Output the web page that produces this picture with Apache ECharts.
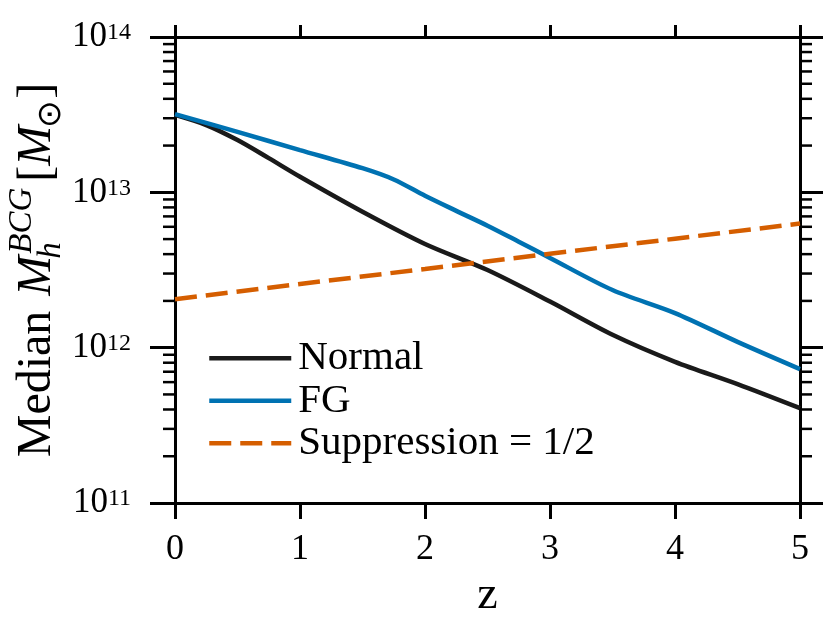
<!DOCTYPE html>
<html>
<head>
<meta charset="utf-8">
<script src="https://cdn.jsdelivr.net/npm/echarts@6/dist/echarts.min.js"></script>
<style>html,body{margin:0;padding:0;background:#fff}#c{width:830px;height:628px}</style>
</head>
<body>
<div id="c"></div>
<script>
// ---- data ----
const zNormal   = [0, 0.25, 0.5, 0.75, 1, 1.5, 2, 2.5, 3, 3.5, 4, 4.5, 5];
const mNormal   = [3.15e13, 2.71e13, 2.17e13, 1.66e13, 1.26e13, 7.50e12, 4.65e12, 3.16e12, 1.98e12, 1.21e12, 8.11e11, 5.83e11, 4.08e11];
const zFG       = [0, 0.5, 1, 1.5, 1.75, 2, 2.25, 2.5, 2.75, 3, 3.5, 4, 4.5, 5];
const mFG       = [3.19e13, 2.45e13, 1.87e13, 1.43e13, 1.21e13, 9.50e12, 7.60e12, 6.10e12, 4.81e12, 3.78e12, 2.35e12, 1.67e12, 1.09e12, 7.28e11];
const zSupp     = [0, 1, 2, 3, 4, 5];
const mSupp     = [2.05e12, 2.57e12, 3.21e12, 4.02e12, 5.03e12, 6.30e12];
const seriesNames = ['Normal', 'FG', 'Suppression = 1/2'];
const xTicks    = [0, 1, 2, 3, 4, 5];
const yMajor    = [1e11, 1e12, 1e13, 1e14];
const yMinor    = [2e11,3e11,4e11,5e11,6e11,7e11,8e11,9e11,
                   2e12,3e12,4e12,5e12,6e12,7e12,8e12,9e12,
                   2e13,3e13,4e13,5e13,6e13,7e13,8e13,9e13];

const FONT = 'Liberation Serif';
const X_MIN = xTicks[0], X_MAX = xTicks[xTicks.length - 1];
const Y_MIN = yMajor[0], Y_MAX = yMajor[yMajor.length - 1];
const GRID = {left: 175, right: 30, top: 37, bottom: 125};

const pairs = (xs, ys) => xs.map((x, i) => [x, ys[i]]);

// ---- y-axis title built from pieces ----
const mctx = document.createElement('canvas').getContext('2d');
function tw(t, size, italic) {
  mctx.font = (italic ? 'italic ' : '') + size + 'px "' + FONT + '"';
  return mctx.measureText(t).width;
}
const TS = 48, SS = 33;
const SUB_Y = 14.5, SUP_Y = -15;
function piece(text, x, y, size, italic) {
  return {type: 'text', x: x, y: y, style: {
    text: text, fontFamily: FONT, fontSize: size, fontStyle: italic ? 'italic' : 'normal',
    fill: '#000', align: 'left', verticalAlign: 'middle', textAlign: 'left', textVerticalAlign: 'middle'}};
}
const kids = [];
let px = 0;
kids.push(piece('Median', px, 0, TS, false)); px += tw('Median', TS, false) + 15;
kids.push(piece('M', px, 0, TS, true));
let wM = tw('M', TS, true);
kids.push(piece('h', px + wM - 3, SUB_Y, SS, true));
kids.push(piece('BCG', px + wM + 2, SUP_Y, SS, true));
px += wM + Math.max(tw('h', SS, true) - 3, tw('BCG', SS, true) + 2) + 6;
kids.push(piece('[', px, 0, TS, false)); px += tw('[', TS, false);
kids.push(piece('M', px, 0, TS, true)); px += wM - 2;
kids.push(piece('\u2299', px, SUB_Y, SS, false)); px += tw('\u2299', SS, false) + 1;
kids.push(piece(']', px, 0, TS, false)); px += tw(']', TS, false);
const titleLen = px;
const plotMid = GRID.top + (628 - GRID.top - GRID.bottom) / 2;

const axisLineStyle = {color: '#000', width: 3};

const chart = echarts.init(document.getElementById('c'), null, {renderer: 'canvas'});
chart.setOption({
  animation: false,
  backgroundColor: '#fff',
  grid: {left: GRID.left, right: GRID.right, top: GRID.top, bottom: GRID.bottom, containLabel: false},
  xAxis: [{
    type: 'value', min: X_MIN, max: X_MAX, interval: 1, position: 'bottom',
    axisLine: {show: true, onZero: false, lineStyle: axisLineStyle},
    axisTick: {show: true, inside: false, length: 16, lineStyle: {color: '#000', width: 3}},
    axisLabel: {show: true, margin: 29, fontFamily: FONT, fontSize: 36, color: '#000'},
    splitLine: {show: false},
    name: 'z', nameLocation: 'middle', nameGap: 67,
    nameTextStyle: {fontFamily: FONT, fontSize: 46, color: '#000'}
  }, {
    type: 'value', min: X_MIN, max: X_MAX, interval: 1, position: 'top',
    axisLine: {show: true, onZero: false, lineStyle: axisLineStyle},
    axisTick: {show: true, inside: false, length: 12, lineStyle: {color: '#000', width: 3}},
    axisLabel: {show: false}, splitLine: {show: false}
  }],
  yAxis: [{
    type: 'log', logBase: 10, min: Y_MIN, max: Y_MAX, interval: 1, position: 'left',
    axisLine: {show: true, onZero: false, lineStyle: axisLineStyle},
    axisTick: {show: true, inside: false, length: 25, lineStyle: {color: '#000', width: 3}},
    axisLabel: {
      show: true, margin: 44,
      formatter: v => '{b|10}{s|' + Math.round(Math.log10(v)) + '}',
      rich: {
        b: {fontFamily: FONT, fontSize: 35, color: '#000', lineHeight: 38},
        s: {fontFamily: FONT, fontSize: 24, color: '#000', padding: [0, 0, 8, 0]}
      }
    },
    splitLine: {show: false}, minorTick: {show: false}
  }, {
    type: 'log', logBase: 10, min: Y_MIN, max: Y_MAX, interval: 1, position: 'right',
    axisLine: {show: true, onZero: false, lineStyle: axisLineStyle},
    axisTick: {show: true, inside: false, length: 23, lineStyle: {color: '#000', width: 3}},
    axisLabel: {show: false}, splitLine: {show: false}
  }],
  legend: {
    data: seriesNames, orient: 'vertical', left: 207, top: 337, padding: 0,
    itemWidth: 82, itemHeight: 14, itemGap: 0,
    itemStyle: {opacity: 0},
    lineStyle: {width: 4.5},
    textStyle: {fontFamily: FONT, fontSize: 41, color: '#000', lineHeight: 42.5, padding: [0, 0, 0, 2]},
    selectedMode: false
  },
  graphic: [{
    type: 'group', x: 37, y: plotMid + titleLen / 2, rotation: Math.PI / 2,
    children: kids
  }],
  series: [{
    name: seriesNames[0], type: 'line', data: pairs(zNormal, mNormal), symbol: 'none', smooth: 0.3,
    lineStyle: {color: '#1a1a1a', width: 4.5}, itemStyle: {color: '#1a1a1a'}, z: 3
  }, {
    name: seriesNames[1], type: 'line', data: pairs(zFG, mFG), symbol: 'none', smooth: 0.3,
    lineStyle: {color: '#0072b2', width: 4.5}, itemStyle: {color: '#0072b2'}, z: 3
  }, {
    name: seriesNames[2], type: 'line', data: pairs(zSupp, mSupp), symbol: 'none',
    lineStyle: {color: '#d55e00', width: 4.5, type: [22, 9]}, itemStyle: {color: '#d55e00'}, z: 4
  }, {
    name: 'minorTicks', type: 'custom', xAxisIndex: 0, yAxisIndex: 0, clip: false, silent: true, z: 5,
    data: yMinor.map(v => [X_MIN, v]),
    renderItem: (params, api) => {
      const v = api.value(1);
      const a = api.coord([X_MIN, v]);
      const b = api.coord([X_MAX, v]);
      const st = {stroke: '#000', lineWidth: 2.5};
      return {type: 'group', children: [
        {type: 'line', shape: {x1: a[0] - 12, y1: a[1], x2: a[0], y2: a[1]}, style: st},
        {type: 'line', shape: {x1: b[0], y1: b[1], x2: b[0] + 12, y2: b[1]}, style: st}
      ]};
    }
  }]
});
</script>
</body>
</html>
